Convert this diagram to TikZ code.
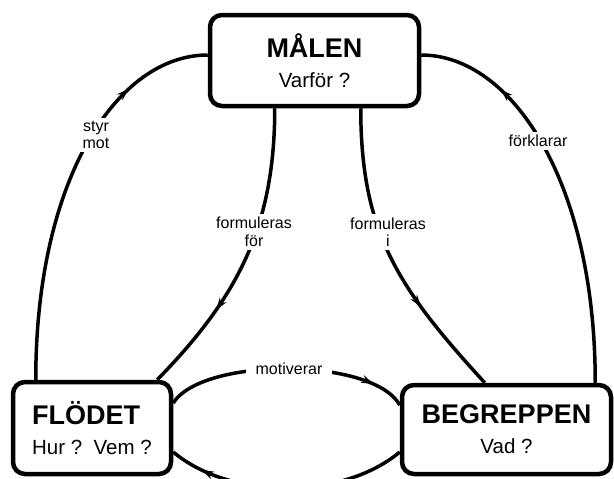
\documentclass[tikz,border=0pt]{standalone}
\usepackage{fontspec}
\setmainfont{Liberation Sans}
\usetikzlibrary{arrows.meta,decorations.markings,calc}
\begin{document}
\begin{tikzpicture}[x=1pt,y=-1pt,
  box/.style={draw,line width=4.5pt,rounded corners=12pt,inner sep=0pt,
    font=\fontsize{20.5}{30}\selectfont},
  conn/.style={line width=3.5pt},
  lbl/.style={fill=white,inner xsep=10pt,inner ysep=3pt,align=center,
    font=\fontsize{16}{17.5}\selectfont},
  midarrow/.style={postaction={decorate,decoration={markings,
    mark=at position #1 with {\arrow{Stealth[length=12pt,width=8pt]}}}}},
  midarrowrev/.style={postaction={decorate,decoration={markings,
    mark=at position #1 with {\arrowreversed{Stealth[length=12pt,width=8pt]}}}}}
]
\useasboundingbox (0,0) rectangle (614,479);

\node[box,minimum width=209pt,minimum height=91pt,align=center] (malen) at (314.5,60.5)
  {{\fontsize{27}{30}\selectfont\bfseries MÅLEN}\\Varför ?};
\node[box,minimum width=158pt,minimum height=92pt,align=left] (flodet) at (92,428)
  {{\fontsize{27}{30}\selectfont\bfseries FLÖDET}\\Hur ?\ \ Vem ?};
\node[box,minimum width=209pt,minimum height=89pt,align=center] (begrepp) at (506.5,429.5)
  {{\fontsize{27}{30}\selectfont\bfseries BEGREPPEN}\\Vad ?};

% styr mot
\draw[conn,midarrow=0.78] ($(flodet.north west)+(25,0)$) .. controls +(0,-202) and +(-90,0) .. ($(malen.west)+(0,-5.5)$);
% förklarar
\draw[conn,midarrow=0.78] ($(begrepp.north east)+(-18,0)$) .. controls +(0,-202) and +(90,0) .. ($(malen.east)+(0,-5.5)$);
% formuleras för
\draw[conn,midarrow=0.70] ($(malen.south west)+(67,0)$) .. controls +(0,119) and +(80,-82) .. ($(flodet.north east)+(-16,0)$);
% formuleras i
\draw[conn,midarrow=0.68] ($(malen.south west)+(153,0)$) .. controls +(0,124) and +(-87,-95) .. ($(begrepp.north west)+(85,0)$);
% motiverar
\draw[conn,midarrow=0.86] ($(flodet.east)+(0,-25)$) .. controls +(29,-46) and +(-27,-48) .. ($(begrepp.west)+(0,-24.5)$);
% bottom return
\draw[conn,midarrowrev=0.14] ($(flodet.east)+(0,24)$) .. controls +(57,48) and +(-57,48) .. ($(begrepp.west)+(0,22.5)$);

\node[lbl] (l1) at (96,135) {styr\\mot};
\node[lbl] (l2) at (254,232) {formuleras\\för};
\node[lbl] (l3) at (388,232) {formuleras\\i};
\node[lbl] (l4) at (538,141) {förklarar};
\node[lbl] (l5) at (289,369) {motiverar};
\end{tikzpicture}
\end{document}
